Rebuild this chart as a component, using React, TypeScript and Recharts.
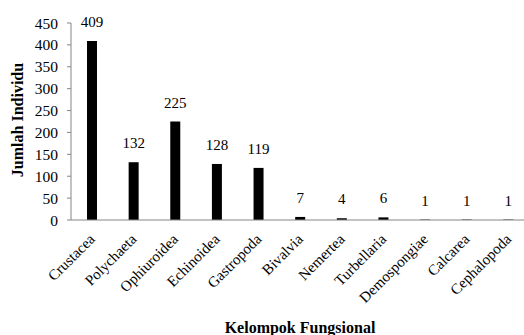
import React from "react";
import { BarChart, Bar, XAxis, YAxis, LabelList, Label } from "recharts";

const categories = [
  "Crustacea",
  "Polychaeta",
  "Ophiuroidea",
  "Echinoidea",
  "Gastropoda",
  "Bivalvia",
  "Nemertea",
  "Turbellaria",
  "Demospongiae",
  "Calcarea",
  "Cephalopoda",
];
const values = [409, 132, 225, 128, 119, 7, 4, 6, 1, 1, 1];
const yTicks = [0, 50, 100, 150, 200, 250, 300, 350, 400, 450];

const data = categories.map((c, i) => ({ name: c, value: values[i] }));

const FONT = "'Liberation Serif', 'Times New Roman', serif";

const XTick = (props: any) => {
  const { x, y, payload } = props;
  const ax = x + 4;
  const ay = y + 12;
  return (
    <text
      x={ax}
      y={ay}
      transform={`rotate(-45 ${ax} ${ay})`}
      textAnchor="end"
      fontFamily={FONT}
      fontSize={15}
      fill="#000"
    >
      {payload.value}
    </text>
  );
};

export default function App() {
  return (
    <div
      style={{
        position: "fixed",
        left: 0,
        top: 0,
        width: 524,
        height: 335,
        overflow: "hidden",
        background: "#fff",
      }}
    >
      <BarChart
        width={533}
        height={335}
        data={data}
        margin={{ top: 23, right: 4, bottom: 0, left: 0 }}
        barCategoryGap={0}
      >
        <XAxis
          dataKey="name"
          interval={0}
          height={115}
          tickLine={false}
          axisLine={{ stroke: "#868686" }}
          tick={<XTick />}
        >
          <Label
            content={(p: any) => {
              const vb = p.viewBox;
              const cx = vb.x + vb.width / 2;
              return (
                <text
                  x={cx}
                  y={333}
                  textAnchor="middle"
                  fontFamily={FONT}
                  fontWeight="bold"
                  fontSize={16}
                  fill="#000"
                >
                  Kelompok Fungsional
                </text>
              );
            }}
          />
        </XAxis>
        <YAxis
          width={71}
          domain={[0, 450]}
          ticks={yTicks}
          interval={0}
          axisLine={{ stroke: "#868686" }}
          tickLine={{ stroke: "#868686" }}
          tickSize={4}
          tickMargin={9}
          tick={{ fontFamily: FONT, fontSize: 15.5, fill: "#000" }}
        >
          <Label
            content={() => (
              <text
                x={23}
                y={120}
                transform="rotate(-90 23 120)"
                textAnchor="middle"
                fontFamily={FONT}
                fontWeight="bold"
                fontSize={16}
                fill="#000"
              >
                Jumlah Individu
              </text>
            )}
          />
        </YAxis>
        <Bar dataKey="value" fill="#000" barSize={10} isAnimationActive={false}>
          <LabelList
            dataKey="value"
            position="top"
            offset={14}
            fontFamily={FONT}
            fontSize={15}
            fill="#000"
          />
        </Bar>
      </BarChart>
    </div>
  );
}
